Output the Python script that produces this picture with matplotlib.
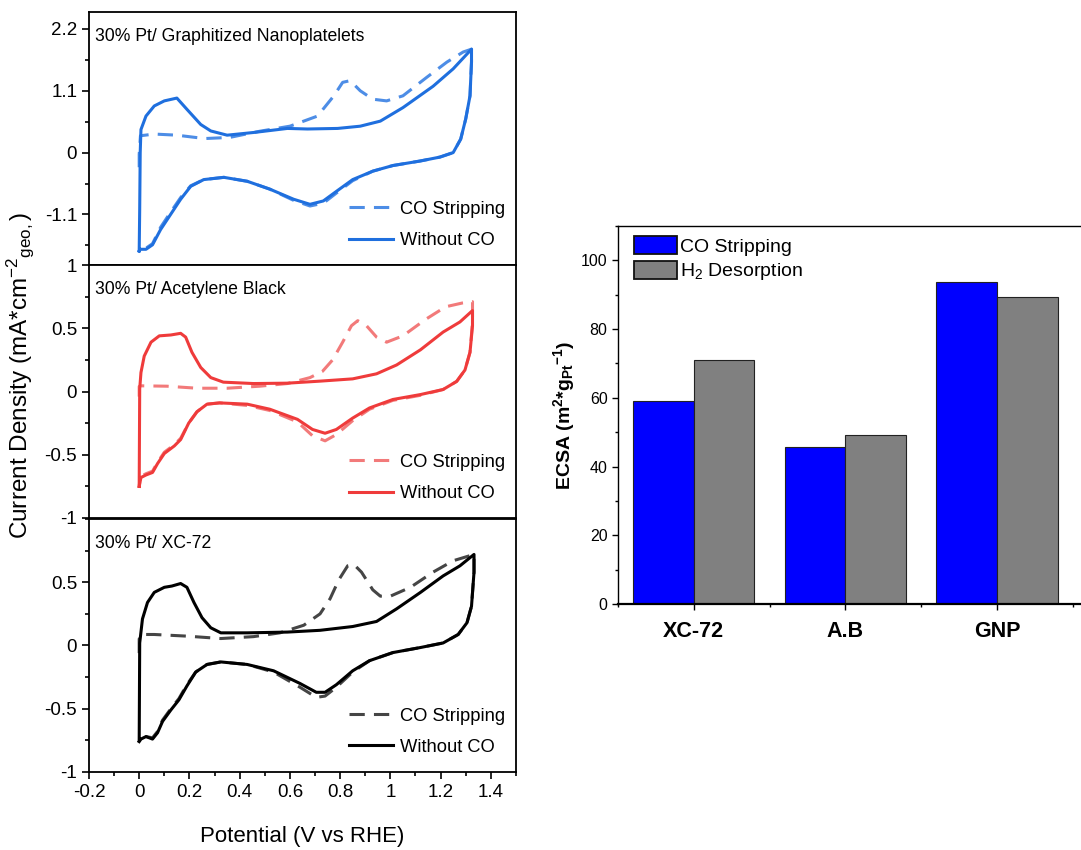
import matplotlib
matplotlib.use("Agg")
from matplotlib import pyplot as plt
from matplotlib.ticker import MultipleLocator, NullLocator

plt.rcParams["font.family"] = ["Liberation Sans", "DejaVu Sans"]
plt.rcParams["mathtext.fontset"] = "custom"
plt.rcParams["mathtext.rm"] = "Liberation Sans"
plt.rcParams["mathtext.bf"] = "Liberation Sans:bold"
plt.rcParams["mathtext.default"] = "regular"

# ---- CV data (V vs RHE, mA/cm2) ----
gnp_no_co_v = [0, 0.002, 0.004, 0.007, 0.027, 0.06, 0.1, 0.15, 0.19, 0.245, 0.285, 0.35, 0.46, 0.59,
               0.67, 0.79, 0.88, 0.96, 1.05, 1.17, 1.25, 1.323,
               1.323, 1.317, 1.30, 1.28, 1.25, 1.197, 1.118, 1.01, 0.93, 0.85, 0.785, 0.733, 0.68,
               0.615, 0.52, 0.43, 0.337, 0.257, 0.205, 0.165, 0.125, 0.085, 0.053, 0.027, 0.005, 0]
gnp_no_co_j = [-1.75, -1.0, 0.0, 0.41, 0.65, 0.83, 0.92, 0.97, 0.77, 0.5, 0.385, 0.31, 0.36, 0.43,
               0.42, 0.43, 0.47, 0.56, 0.80, 1.18, 1.49, 1.84,
               1.61, 1.01, 0.6, 0.24, 0.0, -0.08, -0.15, -0.23, -0.33, -0.48, -0.69, -0.86, -0.92,
               -0.83, -0.65, -0.51, -0.44, -0.48, -0.60, -0.83, -1.1, -1.37, -1.64, -1.72, -1.72, -1.75]
gnp_co_v = [0, 0, 0.005, 0.06, 0.15, 0.26, 0.36, 0.48, 0.60, 0.71, 0.775, 0.81, 0.84, 0.88, 0.93,
            0.985, 1.05, 1.145, 1.225, 1.29, 1.323,
            1.323, 1.317, 1.30, 1.28, 1.25, 1.197, 1.118, 1.01, 0.93, 0.85, 0.785, 0.733, 0.68,
            0.615, 0.52, 0.43, 0.337, 0.257, 0.205, 0.165, 0.125, 0.085, 0.053, 0.027, 0.005, 0]
gnp_co_j = [-0.26, -0.03, 0.30, 0.33, 0.31, 0.25, 0.27, 0.38, 0.47, 0.65, 1.01, 1.25, 1.28, 1.1, 0.95,
            0.92, 1.01, 1.34, 1.61, 1.79, 1.84,
            1.61, 1.01, 0.6, 0.24, 0.0, -0.08, -0.15, -0.23, -0.33, -0.50, -0.72, -0.90, -0.95,
            -0.85, -0.65, -0.51, -0.44, -0.48, -0.59, -0.80, -1.06, -1.33, -1.62, -1.70, -1.70, -1.72]

ab_no_co_v = [0, 0.002, 0.007, 0.02, 0.047, 0.08, 0.126, 0.165, 0.185, 0.21, 0.245, 0.285, 0.335,
              0.455, 0.59, 0.72, 0.85, 0.945, 1.025, 1.12, 1.21, 1.277, 1.327,
              1.327, 1.317, 1.297, 1.264, 1.21, 1.12, 1.01, 0.917, 0.85, 0.785, 0.74, 0.69, 0.63,
              0.52, 0.43, 0.32, 0.27, 0.23, 0.197, 0.165, 0.14, 0.1, 0.073, 0.053, 0.027, 0.007, 0]
ab_no_co_j = [-0.75, 0.02, 0.15, 0.28, 0.39, 0.44, 0.447, 0.46, 0.43, 0.31, 0.19, 0.11, 0.074,
              0.063, 0.066, 0.082, 0.10, 0.14, 0.21, 0.33, 0.47, 0.55, 0.64,
              0.52, 0.31, 0.17, 0.08, 0.016, -0.024, -0.063, -0.13, -0.21, -0.30, -0.33, -0.30, -0.22,
              -0.14, -0.10, -0.09, -0.10, -0.16, -0.25, -0.38, -0.43, -0.49, -0.57, -0.64, -0.66, -0.68, -0.75]
ab_co_v = [0, 0, 0.007, 0.11, 0.23, 0.35, 0.48, 0.59, 0.68, 0.73, 0.77, 0.81, 0.845, 0.87, 0.905,
           0.945, 0.985, 1.05, 1.14, 1.22, 1.287, 1.327,
           1.327, 1.317, 1.297, 1.264, 1.21, 1.12, 1.01, 0.917, 0.85, 0.785, 0.74, 0.69, 0.63,
           0.52, 0.43, 0.32, 0.27, 0.23, 0.197, 0.165, 0.14, 0.1, 0.073, 0.053, 0.027, 0.007, 0]
ab_co_j = [-0.04, 0.04, 0.045, 0.042, 0.026, 0.026, 0.042, 0.063, 0.11, 0.16, 0.25, 0.39, 0.52, 0.56,
           0.52, 0.43, 0.39, 0.44, 0.57, 0.67, 0.70, 0.71,
           0.55, 0.31, 0.17, 0.08, 0.016, -0.03, -0.07, -0.14, -0.23, -0.34, -0.39, -0.35, -0.24,
           -0.15, -0.11, -0.09, -0.10, -0.16, -0.25, -0.37, -0.42, -0.48, -0.56, -0.63, -0.65, -0.67, -0.74]

xc_no_co_v = [0, 0.002, 0.013, 0.033, 0.06, 0.1, 0.13, 0.165, 0.19, 0.218, 0.25, 0.285, 0.325, 0.43,
              0.59, 0.72, 0.85, 0.945, 1.025, 1.12, 1.21, 1.277, 1.333,
              1.333, 1.323, 1.305, 1.27, 1.21, 1.12, 1.01, 0.917, 0.85, 0.785, 0.74, 0.705, 0.64,
              0.535, 0.43, 0.325, 0.27, 0.225, 0.19, 0.158, 0.126, 0.093, 0.073, 0.053, 0.027, 0.007, 0]
xc_no_co_j = [-0.75, 0.02, 0.21, 0.34, 0.42, 0.46, 0.47, 0.49, 0.46, 0.34, 0.22, 0.14, 0.10, 0.10,
              0.106, 0.12, 0.15, 0.19, 0.29, 0.42, 0.55, 0.63, 0.72,
              0.58, 0.31, 0.18, 0.087, 0.02, -0.016, -0.056, -0.12, -0.20, -0.31, -0.37, -0.37, -0.30,
              -0.20, -0.15, -0.13, -0.15, -0.21, -0.32, -0.43, -0.51, -0.60, -0.69, -0.74, -0.72, -0.74, -0.76]
xc_co_v = [0, 0, 0.005, 0.06, 0.19, 0.325, 0.455, 0.56, 0.655, 0.72, 0.76, 0.795, 0.83, 0.855, 0.885,
           0.93, 0.96, 1.0, 1.08, 1.17, 1.25, 1.333,
           1.333, 1.323, 1.305, 1.27, 1.21, 1.12, 1.01, 0.917, 0.85, 0.785, 0.74, 0.705, 0.64,
           0.535, 0.43, 0.325, 0.27, 0.225, 0.19, 0.158, 0.126, 0.093, 0.073, 0.053, 0.027, 0.007, 0]
xc_co_j = [-0.06, 0.05, 0.087, 0.087, 0.074, 0.055, 0.07, 0.10, 0.16, 0.25, 0.37, 0.52, 0.63, 0.64, 0.58,
           0.44, 0.39, 0.39, 0.46, 0.58, 0.67, 0.72,
           0.58, 0.31, 0.18, 0.087, 0.02, -0.016, -0.056, -0.12, -0.21, -0.33, -0.40, -0.41, -0.33,
           -0.21, -0.15, -0.13, -0.15, -0.21, -0.31, -0.42, -0.50, -0.59, -0.68, -0.73, -0.72, -0.74, -0.76]

# ---- ECSA data ----
supports = ["XC-72", "A.B", "GNP"]
ecsa_co = [59.0, 45.6, 93.8]
ecsa_h2 = [71.1, 49.3, 89.4]


def style_cv(ax, ylim, minor, ticks, labels):
    ax.set_xlim(-0.2, 1.5)
    ax.set_ylim(*ylim)
    ax.yaxis.set_minor_locator(MultipleLocator(minor))
    ax.set_yticks(ticks)
    ax.set_yticklabels(labels)
    ax.tick_params(axis="y", which="major", direction="out", length=5, width=1.2, labelsize=13.5)
    ax.tick_params(axis="y", which="minor", direction="out", length=3, width=1.2)
    for s in ax.spines.values():
        s.set_linewidth(1.3)


fig = plt.figure(figsize=(10.81, 8.5), dpi=100)
ax_gnp = fig.add_axes([0.0823, 0.6882, 0.395, 0.2976])
ax_ab = fig.add_axes([0.0823, 0.3906, 0.395, 0.2976])
ax_xc = fig.add_axes([0.0823, 0.0918, 0.395, 0.2976])

panels = [
    (ax_gnp, gnp_co_v, gnp_co_j, gnp_no_co_v, gnp_no_co_j, "#1f6fde", "#4d8de6",
     "30% Pt/ Graphitized Nanoplatelets"),
    (ax_ab, ab_co_v, ab_co_j, ab_no_co_v, ab_no_co_j, "#ef3b3b", "#f27a7a",
     "30% Pt/ Acetylene Black"),
    (ax_xc, xc_co_v, xc_co_j, xc_no_co_v, xc_no_co_j, "#000000", "#454545",
     "30% Pt/ XC-72"),
]
for ax, cv, cj, nv, nj, c_solid, c_dash, title in panels:
    ax.plot(cv, cj, color=c_dash, lw=2.2, dashes=(5, 3), label="CO Stripping",
            solid_joinstyle="round")
    ax.plot(nv, nj, color=c_solid, lw=2.2, label="Without CO", solid_joinstyle="round")
    ax.text(0.015, 0.905, title, transform=ax.transAxes, ha="left", va="center", fontsize=12.7)
    ax.legend(loc="lower right", frameon=False, fontsize=13.2, handlelength=2.45,
              handletextpad=0.35, borderaxespad=0.2, labelspacing=0.78,
              bbox_to_anchor=(1.0, 0.02))

style_cv(ax_gnp, (-2.0, 2.5), 0.55, [-1.1, 0, 1.1, 2.2], ["-1.1", "0", "1.1", "2.2"])
style_cv(ax_ab, (-1.0, 1.0), 0.25, [-1, -0.5, 0, 0.5, 1], ["-1", "-0.5", "0", "0.5", "1"])
style_cv(ax_xc, (-1.0, 1.0), 0.25, [-1, -0.5, 0, 0.5], ["-1", "-0.5", "0", "0.5"])

for ax in (ax_gnp, ax_ab):
    ax.xaxis.set_major_locator(NullLocator())
    ax.xaxis.set_minor_locator(NullLocator())
ax_xc.xaxis.set_minor_locator(MultipleLocator(0.1))
ax_xc.set_xticks([-0.2, 0, 0.2, 0.4, 0.6, 0.8, 1.0, 1.2, 1.4])
ax_xc.set_xticklabels(["-0.2", "0", "0.2", "0.4", "0.6", "0.8", "1", "1.2", "1.4"])
ax_xc.tick_params(axis="x", which="major", direction="out", length=5, width=1.2, labelsize=13.5)
ax_xc.tick_params(axis="x", which="minor", direction="out", length=3, width=1.2)
ax_xc.set_xlabel("Potential (V vs RHE)", fontsize=16, labelpad=18)

fig.text(0.019, 0.558, "Current Density (mA*cm$^{-2}$$_{geo,}$)", rotation=90,
         ha="center", va="center", fontsize=17.5)

# ---- ECSA bar chart ----
ax_b = fig.add_axes([0.5717, 0.2894, 0.4283, 0.4447])
pos = list(range(len(supports)))
w = 0.4
ax_b.bar([p - w / 2 for p in pos], ecsa_co, width=w, color="#0000ff", edgecolor="#222222",
         linewidth=0.8, label="CO Stripping")
ax_b.bar([p + w / 2 for p in pos], ecsa_h2, width=w, color="#808080", edgecolor="#222222",
         linewidth=0.8, label="H$_2$ Desorption")
ax_b.set_xlim(-0.5, 2.555)
ax_b.set_ylim(0, 110)
ax_b.set_xticks(pos)
ax_b.set_xticklabels(supports, fontsize=15.5, fontweight="bold")
ax_b.xaxis.set_minor_locator(MultipleLocator(0.5))
ax_b.yaxis.set_major_locator(MultipleLocator(20))
ax_b.yaxis.set_minor_locator(MultipleLocator(10))
ax_b.tick_params(axis="both", which="major", direction="out", length=4, width=1.0)
ax_b.tick_params(axis="y", which="major", labelsize=11.5)
ax_b.tick_params(axis="both", which="minor", direction="out", length=2.5, width=1.0)
ax_b.tick_params(axis="x", which="major", pad=8)
ax_b.spines["right"].set_visible(False)
for s in ("left", "top"):
    ax_b.spines[s].set_linewidth(1.0)
ax_b.spines["bottom"].set_linewidth(1.6)
ax_b.set_ylabel(r"ECSA (m$^{\mathbf{2}}$*g$_{\mathbf{Pt}}$$^{\mathbf{-1}}$)", fontsize=14,
                fontweight="bold", labelpad=3)
leg = ax_b.legend(loc="upper left", bbox_to_anchor=(0.013, 1.0), frameon=False, fontsize=14,
                  handlelength=2.2, handleheight=1.1, borderaxespad=0.1, labelspacing=0.25,
                  handletextpad=0.2)
for h in leg.legend_handles:
    h.set_edgecolor("#111111")
    h.set_linewidth(1.3)

fig.savefig("out.png", dpi=100)
